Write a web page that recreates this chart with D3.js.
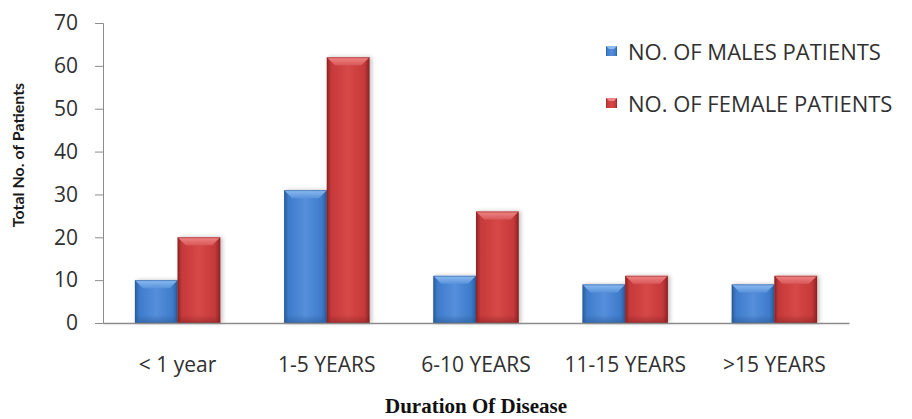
<!DOCTYPE html>
<html>
<head>
<meta charset="utf-8">
<script src="https://cdn.jsdelivr.net/npm/d3@7"></script>
<style>
  body { margin: 0; background: #fff; }
  text { font-family: "Open Sans", Lato, sans-serif; }
</style>
</head>
<body>
<svg id="chart" width="912" height="419"></svg>
<script>
// data
let categories = ['< 1 year', '1-5 YEARS', '6-10 YEARS', '11-15 YEARS', '>15 YEARS'];
let males = [10, 31, 11, 9, 9];
let females = [20, 62, 26, 11, 11];
let seriesNames = ['NO. OF MALES PATIENTS', 'NO. OF FEMALE PATIENTS'];
let yTicks = [0, 10, 20, 30, 40, 50, 60, 70];

let svg = d3.select('#chart');
let margin = { top: 23, left: 103, bottom: 96, right: 66 };
let width = 912, height = 419;

let x = d3.scaleBand()
  .domain(categories)
  .range([margin.left, width - margin.right + 3])
  .paddingInner(0.428)
  .paddingOuter(0.214);

let xs = d3.scaleBand()
  .domain([0, 1])
  .range([0, x.bandwidth()]);

let y = d3.scaleLinear()
  .domain([0, 70])
  .range([height - margin.bottom, margin.top]);

// gradients for the bevelled bars
let defs = svg.append('defs');
let palettes = [
  { id: 'blue', edge: '#2a5c9a', mid: '#3e7bca', light: '#558fdb', top: '#8cbcf2', topDark: '#5a93da' },
  { id: 'red', edge: '#8e2324', mid: '#c5393a', light: '#d64848', top: '#f08585', topDark: '#d85858' }
];
palettes.forEach(p => {
  let g = defs.append('linearGradient').attr('id', 'g-' + p.id).attr('x1', 0).attr('x2', 1).attr('y1', 0).attr('y2', 0);
  g.append('stop').attr('offset', '0%').attr('stop-color', p.edge);
  g.append('stop').attr('offset', '10%').attr('stop-color', p.mid);
  g.append('stop').attr('offset', '50%').attr('stop-color', p.light);
  g.append('stop').attr('offset', '88%').attr('stop-color', p.mid);
  g.append('stop').attr('offset', '100%').attr('stop-color', p.edge);
  let v = defs.append('linearGradient').attr('id', 'v-' + p.id).attr('x1', 0).attr('x2', 0).attr('y1', 0).attr('y2', 1);
  v.append('stop').attr('offset', '0%').attr('stop-color', p.top);
  v.append('stop').attr('offset', '100%').attr('stop-color', p.topDark);
  let b = defs.append('linearGradient').attr('id', 'b-' + p.id).attr('x1', 0).attr('x2', 0).attr('y1', 0).attr('y2', 1);
  b.append('stop').attr('offset', '0%').attr('stop-color', p.edge).attr('stop-opacity', 0);
  b.append('stop').attr('offset', '100%').attr('stop-color', p.edge).attr('stop-opacity', 0.6);
});
let shadow = defs.append('filter').attr('id', 'shadow').attr('x', '-20%').attr('y', '-20%').attr('width', '150%').attr('height', '140%');
shadow.append('feGaussianBlur').attr('in', 'SourceAlpha').attr('stdDeviation', 2);
shadow.append('feOffset').attr('dx', 2).attr('dy', 0).attr('result', 'ob');
shadow.append('feComponentTransfer').append('feFuncA').attr('type', 'linear').attr('slope', 0.25);
let fm = shadow.append('feMerge');
fm.append('feMergeNode');
fm.append('feMergeNode').attr('in', 'SourceGraphic');

// y axis
let yAxis = svg.append('g')
  .attr('transform', `translate(${margin.left},0)`)
  .call(d3.axisLeft(y).tickValues(yTicks).tickSize(8).tickPadding(17));
yAxis.select('.domain').attr('stroke', '#8c8c8c');
yAxis.selectAll('.tick line').attr('stroke', '#8c8c8c');
yAxis.selectAll('.tick text').attr('fill', '#303030').style('font-size', '21px');

// bars
let data = [];
categories.forEach((c, i) => {
  data.push({ cat: c, s: 0, v: males[i], pal: palettes[0] });
  data.push({ cat: c, s: 1, v: females[i], pal: palettes[1] });
});

let bar = svg.append('g').selectAll('g').data(data).enter().append('g')
  .attr('filter', 'url(#shadow)');

bar.append('rect')
  .attr('x', d => x(d.cat) + xs(d.s))
  .attr('y', d => y(d.v))
  .attr('width', xs.bandwidth())
  .attr('height', d => y(0) - y(d.v))
  .attr('fill', d => 'url(#g-' + d.pal.id + ')');

// bottom darkening
bar.append('rect')
  .attr('x', d => x(d.cat) + xs(d.s))
  .attr('y', d => y(0) - 8)
  .attr('width', xs.bandwidth())
  .attr('height', 8)
  .attr('fill', d => 'url(#b-' + d.pal.id + ')');

// top bevel
let bev = 8;
bar.append('polygon')
  .attr('points', d => {
    let x0 = x(d.cat) + xs(d.s), x1 = x0 + xs.bandwidth(), t = y(d.v);
    return [[x0, t], [x1, t], [x1 - bev, t + bev], [x0 + bev, t + bev]].join(' ');
  })
  .attr('fill', d => 'url(#v-' + d.pal.id + ')');

bar.append('rect')
  .attr('x', d => x(d.cat) + xs(d.s) + 0.5)
  .attr('y', d => y(d.v) + 0.5)
  .attr('width', xs.bandwidth() - 1)
  .attr('height', d => y(0) - y(d.v) - 1)
  .attr('fill', 'none')
  .attr('stroke', d => d.pal.edge)
  .attr('stroke-opacity', 0.5);

// x axis
let xAxis = svg.append('g')
  .attr('transform', `translate(0,${y(0)})`)
  .call(d3.axisBottom(x).tickSize(0).tickPadding(34));
xAxis.select('.domain').attr('stroke', '#8c8c8c').attr('stroke-width', 1.5);
xAxis.selectAll('.tick text').attr('fill', '#303030').style('font-size', '21px');

// axis titles
svg.append('text')
  .attr('transform', 'translate(24,155) rotate(-90)')
  .attr('text-anchor', 'middle')
  .style('font-family', 'Lato, sans-serif')
  .style('font-size', '16px')
  .style('font-weight', 'bold')
  .attr('fill', '#1a1a1a')
  .text('Total No. of Patients');

svg.append('text')
  .attr('x', 476)
  .attr('y', 413)
  .attr('text-anchor', 'middle')
  .style('font-family', '"Liberation Serif", serif')
  .style('font-size', '21px')
  .style('font-weight', 'bold')
  .attr('fill', '#111')
  .text('Duration Of Disease');

// legend
let legend = svg.append('g').selectAll('g').data(seriesNames).enter().append('g')
  .attr('transform', (d, i) => `translate(606,${46 + i * 52})`);
legend.append('rect')
  .attr('width', 11).attr('height', 10)
  .attr('fill', (d, i) => 'url(#g-' + palettes[i].id + ')');
legend.append('polygon')
  .attr('points', '0,0 11,0 8,3 3,3')
  .attr('fill', (d, i) => palettes[i].top);
legend.append('text')
  .attr('x', 22)
  .attr('y', 6)
  .attr('dy', '0.35em')
  .attr('fill', '#303030')
  .style('font-size', '22px')
  .text(d => d);
</script>
</body>
</html>
